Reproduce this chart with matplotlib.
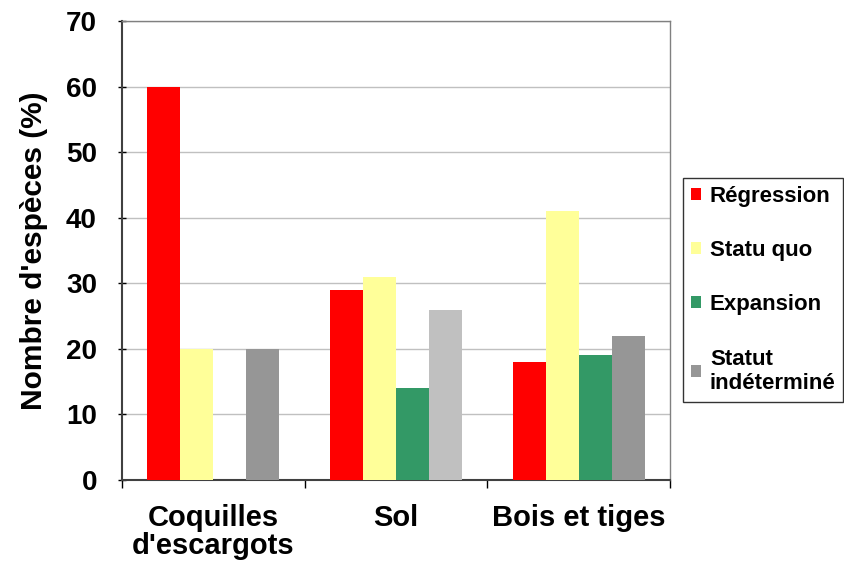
import matplotlib.pyplot as plt
from matplotlib.patches import Patch
import numpy as np

plt.rcParams['font.family'] = ['Liberation Sans', 'DejaVu Sans']
plt.rcParams['font.weight'] = 'bold'

categories = ["Coquilles\nd'escargots", "Sol", "Bois et tiges"]
series = ["Régression", "Statu quo", "Expansion", "Statut\nindéterminé"]
regression = [60, 29, 18]
statu_quo = [20, 31, 41]
expansion = [0, 14, 19]
indetermine = [20, 26, 22]

colors = ['#FF0000', '#FFFF99', '#339966', '#969696']
grey_sol = '#C0C0C0'

fig = plt.figure(figsize=(8.44, 5.61), dpi=100)
ax = fig.add_axes([0.1445, 0.1444, 0.6495, 0.8182])

x = np.arange(len(categories))
w = 0.181
vals = [regression, statu_quo, expansion, indetermine]
for i, v in enumerate(vals):
    c = [colors[i]] * len(categories)
    if i == 3:
        c[1] = grey_sol
    ax.bar(x + (i - 1.5) * w, v, width=w, color=c, zorder=3)

ax.set_xlim(-0.5, 2.5)
ax.set_ylim(0, 70)
ax.set_yticks(range(0, 71, 10))
ax.yaxis.grid(True, color='#C0C0C0', linewidth=1, zorder=0)
ax.set_xticks(x)
ax.set_xticklabels(categories, fontsize=21, fontweight='bold', va='top', linespacing=1.0)
ax.set_xticks([-0.5, 0.5, 1.5, 2.5], minor=True)
ax.tick_params(axis='x', which='major', length=0, pad=17)
ax.tick_params(axis='x', which='minor', length=6, width=1, direction='out')
ax.tick_params(axis='y', length=6, width=1, direction='inout', labelsize=20, pad=15)
for lab in ax.get_yticklabels():
    lab.set_fontweight('bold')

ax.set_ylabel("Nombre d'espèces (%)", fontsize=21.5, fontweight='bold', labelpad=13)

for s in ['left', 'bottom']:
    ax.spines[s].set_color('#404040')
    ax.spines[s].set_linewidth(1.5)
for s in ['top', 'right']:
    ax.spines[s].set_color('#808080')
    ax.spines[s].set_linewidth(1)

handles = [Patch(facecolor=colors[i], edgecolor='none') for i in range(4)]
leg = fig.legend(handles, series, loc='upper left', bbox_to_anchor=(0.8095, 0.683),
                 prop={'weight': 'bold', 'size': 16},
                 frameon=True, fancybox=False, edgecolor='black',
                 handlelength=0.45, handleheight=0.45, handletextpad=0.4,
                 labelspacing=1.5, borderpad=0.35, borderaxespad=0)
leg.get_frame().set_linewidth(1)

plt.savefig('out.png', dpi=100)
